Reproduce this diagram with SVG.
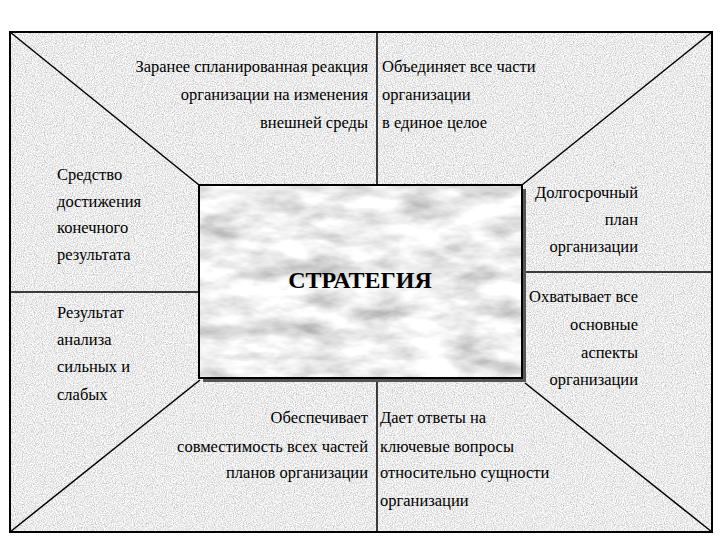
<svg xmlns="http://www.w3.org/2000/svg" width="720" height="540" viewBox="0 0 720 540">
<style>
.t{font-family:"Liberation Serif","Times New Roman",serif;font-size:16.5px;fill:#000}
.r{text-anchor:end}
.ln{stroke:#000;stroke-width:1.5;fill:none}
.title{font-family:"Liberation Serif","Times New Roman",serif;font-size:24px;font-weight:bold;fill:#000;text-anchor:middle}
</style>
<defs>
<filter id="grain" x="0" y="0" width="100%" height="100%" filterUnits="objectBoundingBox">
<feTurbulence type="fractalNoise" baseFrequency="0.9" numOctaves="2" seed="3" result="n"/>
<feColorMatrix in="n" type="matrix" values="0.9 0 0 0 0.38  0.9 0 0 0 0.38  0.9 0 0 0 0.38  0 0 0 0 1"/>
</filter>
<filter id="marble" x="0" y="0" width="100%" height="100%" filterUnits="objectBoundingBox">
<feTurbulence type="fractalNoise" baseFrequency="0.02 0.05" numOctaves="4" seed="7" result="n"/>
<feColorMatrix in="n" type="matrix" values="1.1 0 0 0 0.3  1.1 0 0 0 0.3  1.1 0 0 0 0.3  0 0 0 0 1"/>
</filter>
</defs>
<rect x="0" y="0" width="720" height="540" fill="#fff"/>
<rect id="bg" x="10" y="32" width="702" height="500" filter="url(#grain)"/>
<rect x="10" y="32" width="702" height="500" fill="none" stroke="#000" stroke-width="2"/>
<g id="connectors" class="ln">
<line x1="10" y1="32" x2="199" y2="185"/>
<line x1="712" y1="32" x2="522" y2="185"/>
<line x1="10" y1="532" x2="200" y2="380"/>
<line x1="712" y1="532" x2="525" y2="383"/>
<line x1="377" y1="32" x2="377" y2="185"/>
<line x1="377" y1="380" x2="377" y2="532"/>
<line x1="10" y1="292" x2="199" y2="292"/>
<line x1="522" y1="272" x2="712" y2="272"/>
</g>
<g id="center">
<rect x="203" y="189" width="323" height="193" fill="#555"/>
<rect x="199" y="185" width="323" height="193" filter="url(#marble)"/>
<rect x="199" y="185" width="323" height="193" fill="none" stroke="#000" stroke-width="2"/>
<text class="title" x="360" y="288">СТРАТЕГИЯ</text>
</g>
<g id="top-left">
<text class="t r" x="368" y="72">Заранее спланированная реакция</text>
<text class="t r" x="368" y="100">организации на изменения</text>
<text class="t r" x="368" y="128">внешней среды</text>
</g>
<g id="top-right">
<text class="t" x="382" y="72">Объединяет все части</text>
<text class="t" x="382" y="100">организации</text>
<text class="t" x="382" y="128">в единое целое</text>
</g>
<g id="left-top">
<text class="t" x="57" y="180">Средство</text>
<text class="t" x="57" y="207">достижения</text>
<text class="t" x="57" y="233">конечного</text>
<text class="t" x="57" y="260">результата</text>
</g>
<g id="left-bottom">
<text class="t" x="57" y="318">Результат</text>
<text class="t" x="57" y="345">анализа</text>
<text class="t" x="57" y="372">сильных и</text>
<text class="t" x="57" y="400">слабых</text>
</g>
<g id="right-top">
<text class="t r" x="638" y="198">Долгосрочный</text>
<text class="t r" x="638" y="225">план</text>
<text class="t r" x="638" y="252">организации</text>
</g>
<g id="right-bottom">
<text class="t r" x="638" y="302">Охватывает все</text>
<text class="t r" x="638" y="330">основные</text>
<text class="t r" x="638" y="358">аспекты</text>
<text class="t r" x="638" y="385">организации</text>
</g>
<g id="bottom-left">
<text class="t r" x="368" y="423">Обеспечивает</text>
<text class="t r" x="368" y="452">совместимость всех частей</text>
<text class="t r" x="368" y="478">планов организации</text>
</g>
<g id="bottom-right">
<text class="t" x="380" y="423">Дает ответы на</text>
<text class="t" x="380" y="452">ключевые вопросы</text>
<text class="t" x="380" y="478">относительно сущности</text>
<text class="t" x="380" y="506">организации</text>
</g>
</svg>
